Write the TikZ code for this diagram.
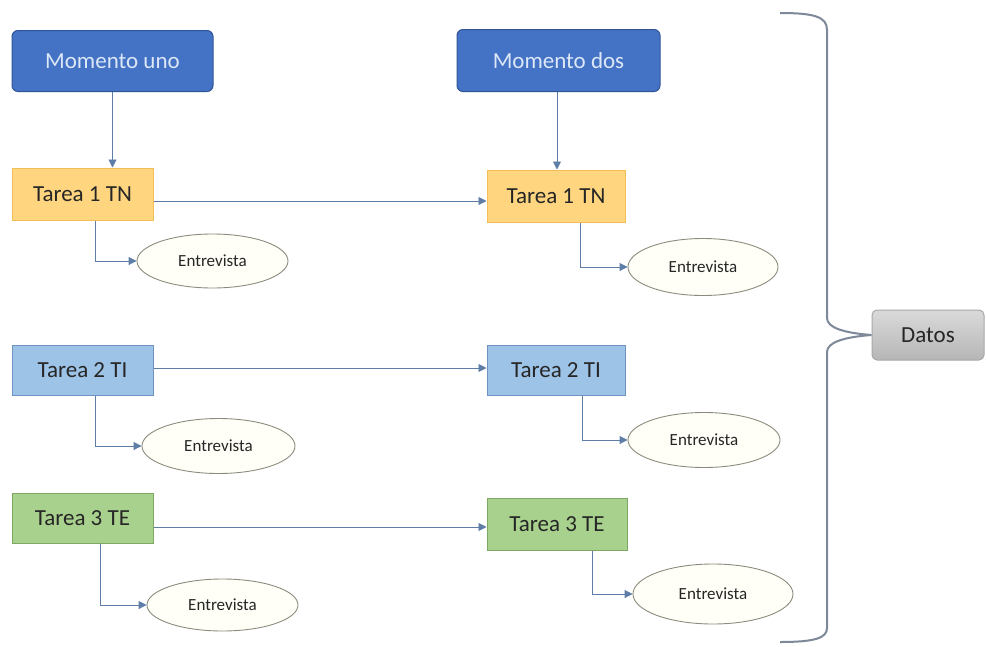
\documentclass[tikz,border=0pt]{standalone}
\usepackage{fontspec}
\setmainfont{Carlito}
\usetikzlibrary{arrows.meta,positioning,shapes.geometric}
\definecolor{mfill}{HTML}{4472C4}
\definecolor{mdraw}{HTML}{2F5597}
\definecolor{mtext}{HTML}{DCE8F8}
\definecolor{yfill}{HTML}{FFD67F}
\definecolor{ydraw}{HTML}{F2BE55}
\definecolor{bfill}{HTML}{9DC3E6}
\definecolor{bdraw}{HTML}{6F93C0}
\definecolor{gfill}{HTML}{A9D18E}
\definecolor{gdraw}{HTML}{7FA864}
\definecolor{efill}{HTML}{FFFFF8}
\definecolor{edraw}{HTML}{8C8C7E}
\definecolor{arr}{HTML}{5E7EA8}
\definecolor{brc}{HTML}{7D8898}
\definecolor{dfill}{HTML}{CACACA}
\definecolor{ddraw}{HTML}{A8A8A8}
\definecolor{txt}{HTML}{262626}
\tikzset{
  moment/.style={draw=mdraw, line width=1pt, fill=mfill, rounded corners=6pt, text=mtext,
    font=\fontsize{23}{26}\selectfont, minimum width=201pt, minimum height=61pt, inner sep=0pt},
  task/.style={line width=1pt, text=txt, font=\fontsize{23}{26}\selectfont,
    minimum height=51pt, inner sep=0pt},
  tyel/.style={task, draw=ydraw, fill=yfill},
  tblu/.style={task, draw=bdraw, fill=bfill},
  tgrn/.style={task, draw=gdraw, fill=gfill},
  entrev/.style={ellipse, draw=edraw, line width=0.9pt, fill=efill, text=txt,
    font=\fontsize{17}{19}\selectfont, inner sep=0pt},
  conn/.style={draw=arr, line width=0.9pt, -{Triangle[width=8pt,length=8pt]}},
  bracestyle/.style={draw=brc, line width=2pt},
  datbox/.style={draw=ddraw, line width=1pt, top color=dfill!70!white, bottom color=dfill!90!black,
    rounded corners=5pt, text=txt, font=\fontsize{23}{26}\selectfont,
    minimum width=112pt, minimum height=50pt, inner sep=0pt}
}
\begin{document}
\begin{tikzpicture}[x=1pt,y=-1pt]
\useasboundingbox[fill=white] (0,0) rectangle (986,646);

\node[moment] (mu) at (112.5,61) {Momento uno};
\node[moment, minimum width=203pt, minimum height=62pt] (md) at (558.5,60.5) {Momento dos};

\node[tyel, minimum width=141pt, minimum height=52pt] (t1a) at (82.5,194) {Tarea 1 TN};
\node[tyel, minimum width=138pt, minimum height=52pt] (t1b) at (556,196) {Tarea 1 TN};
\node[tblu, minimum width=141pt, minimum height=50pt] (t2a) at (82.5,370) {Tarea 2 TI};
\node[tblu, minimum width=138pt, minimum height=50pt] (t2b) at (556,370) {Tarea 2 TI};
\node[tgrn, minimum width=141pt, minimum height=50pt] (t3a) at (82.5,518) {Tarea 3 TE};
\node[tgrn, minimum width=140pt, minimum height=52pt] (t3b) at (557,524) {Tarea 3 TE};

\node[entrev, minimum width=151pt, minimum height=54pt] (e1a) at (212.5,261) {Entrevista};
\node[entrev, minimum width=150pt, minimum height=57pt] (e1b) at (703,267) {Entrevista};
\node[entrev, minimum width=153pt, minimum height=55pt] (e2a) at (218.5,446) {Entrevista};
\node[entrev, minimum width=152pt, minimum height=55pt] (e2b) at (704,440) {Entrevista};
\node[entrev, minimum width=151pt, minimum height=52pt] (e3a) at (222.5,605) {Entrevista};
\node[entrev, minimum width=160pt, minimum height=60pt] (e3b) at (713,594) {Entrevista};

\node[datbox] (dat) at (928,335) {Datos};

% vertical arrows from moments
\draw[conn] (mu.south) -- (mu.south |- t1a.north);
\draw[conn] ([xshift=-1.5pt]md.south) -- ([xshift=-1.5pt]md.south |- t1b.north);

% horizontal arrows
\draw[conn] ([yshift=-7pt]t1a.east) -- ([yshift=-7pt]t1a.east -| t1b.west);
\draw[conn] ([yshift=2pt]t2a.east) -- ([yshift=2pt]t2a.east -| t2b.west);
\draw[conn] ([yshift=-9pt]t3a.east) -- ([yshift=-9pt]t3a.east -| t3b.west);

% elbow arrows to interviews
\draw[conn] ([xshift=12.5pt]t1a.south) |- (e1a);
\draw[conn] ([xshift=24pt]t1b.south) |- (e1b);
\draw[conn] ([xshift=12.5pt]t2a.south) |- (e2a);
\draw[conn] ([xshift=26pt]t2b.south) |- (e2b);
\draw[conn] ([xshift=17.5pt]t3a.south) |- (e3a);
\draw[conn] ([xshift=35pt]t3b.south) |- (e3b);

% brace
\coordinate (btop) at (780,13);
\coordinate (bbot) at (780,642);
\draw[bracestyle] (btop) .. controls (815,13) and (827,17) .. (827,30)
  -- (827,318) .. controls (827,328) and (845,333) .. (dat.west)
  .. controls (845,337) and (827,342) .. (827,352)
  -- (827,628) .. controls (827,638) and (815,642) .. (bbot);
\end{tikzpicture}
\end{document}
